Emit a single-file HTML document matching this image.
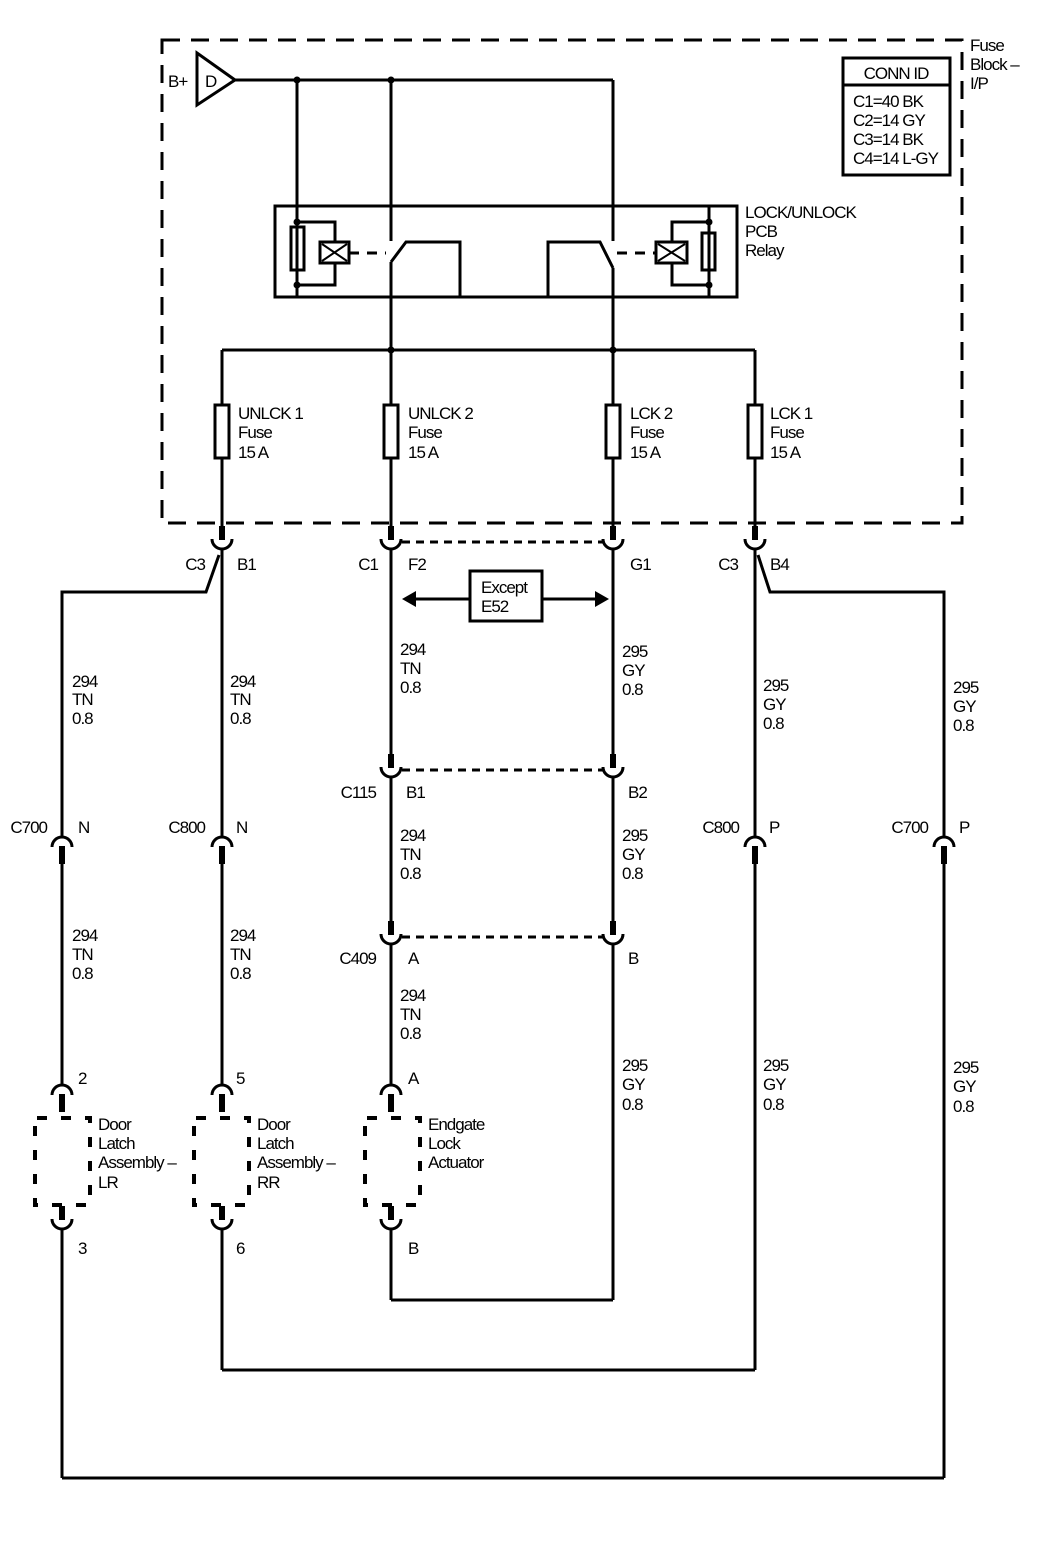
<!DOCTYPE html>
<html><head><meta charset="utf-8"><style>
html,body{margin:0;padding:0;background:#fff}
svg{display:block}
text{font-family:"Liberation Sans",sans-serif;font-size:17px;fill:#000;letter-spacing:-1px}
</style></head><body>
<svg width="1040" height="1568" viewBox="0 0 1040 1568" xmlns="http://www.w3.org/2000/svg">
<defs>
<g id="uc"><rect x="-3" y="-14" width="6" height="14"/><path d="M-10,-1 A10,10 0 0 0 10,-1" fill="none" stroke="#000" stroke-width="3"/></g>
<g id="nc"><rect x="-3" y="0" width="6" height="18"/><path d="M-10,1 A10,10 0 0 1 10,1" fill="none" stroke="#000" stroke-width="3"/></g>
</defs>
<g fill="none" stroke="#000" stroke-width="3">
<rect x="162" y="40" width="800" height="483" stroke-dasharray="18,11"/>
<path d="M197,53 L235,80 L197,105 Z"/>
<line x1="235" y1="80" x2="613" y2="80"/>
<line x1="297" y1="80" x2="297" y2="297"/>
<line x1="391" y1="80" x2="391" y2="241"/>
<line x1="613" y1="80" x2="613" y2="241"/>
<rect x="275" y="206" width="462" height="91"/>
<polyline points="297,222 335,222 335,242"/>
<polyline points="335,263 335,285 297,285"/>
<rect x="291" y="227" width="13" height="43"/>
<rect x="320" y="242" width="29" height="21"/>
<line x1="322" y1="244" x2="347" y2="261" stroke-width="2"/>
<line x1="347" y1="244" x2="322" y2="261" stroke-width="2"/>
<line x1="349" y1="253" x2="386" y2="253" stroke-dasharray="10,8"/>
<polyline points="391,262 406,242 460,242 460,297"/>
<line x1="709" y1="206" x2="709" y2="297"/>
<polyline points="709,222 672,222 672,242"/>
<polyline points="672,263 672,285 709,285"/>
<rect x="702" y="233" width="13" height="37"/>
<rect x="656" y="242" width="31" height="21"/>
<line x1="658" y1="244" x2="685" y2="261" stroke-width="2"/>
<line x1="685" y1="244" x2="658" y2="261" stroke-width="2"/>
<line x1="617" y1="253" x2="656" y2="253" stroke-dasharray="10,8"/>
<polyline points="613,268 600,242 548,242 548,297"/>
<line x1="391" y1="262" x2="391" y2="526"/>
<line x1="613" y1="268" x2="613" y2="526"/>
<line x1="222" y1="350" x2="755" y2="350"/>
<line x1="222" y1="350" x2="222" y2="526"/>
<line x1="755" y1="350" x2="755" y2="526"/>
<rect x="215" y="405" width="14" height="53" fill="#fff"/>
<rect x="384" y="405" width="14" height="53" fill="#fff"/>
<rect x="606" y="405" width="14" height="53" fill="#fff"/>
<rect x="748" y="405" width="14" height="53" fill="#fff"/>
<rect x="843" y="58" width="107" height="117"/>
<line x1="843" y1="85" x2="950" y2="85"/>
<line x1="402" y1="542" x2="604" y2="542" stroke-dasharray="8,6"/>
<line x1="402" y1="770" x2="604" y2="770" stroke-dasharray="8,6"/>
<line x1="402" y1="937" x2="604" y2="937" stroke-dasharray="8,6"/>
<rect x="470" y="571" width="72" height="50"/>
<line x1="414" y1="599" x2="470" y2="599"/>
<line x1="542" y1="599" x2="597" y2="599"/>
<line x1="222" y1="548" x2="222" y2="838"/>
<line x1="391" y1="548" x2="391" y2="757"/>
<line x1="613" y1="548" x2="613" y2="757"/>
<line x1="755" y1="548" x2="755" y2="838"/>
<polyline points="219,555 206,592 62,592 62,838"/>
<polyline points="758,555 770,592 944,592 944,838"/>
<line x1="391" y1="776" x2="391" y2="924"/>
<line x1="613" y1="776" x2="613" y2="924"/>
<line x1="391" y1="943" x2="391" y2="1085"/>
<line x1="613" y1="943" x2="613" y2="1300"/>
<line x1="62" y1="862" x2="62" y2="1085"/>
<line x1="222" y1="862" x2="222" y2="1085"/>
<line x1="755" y1="862" x2="755" y2="1370"/>
<line x1="944" y1="862" x2="944" y2="1478"/>
<line x1="62" y1="1228" x2="62" y2="1478"/>
<line x1="222" y1="1228" x2="222" y2="1370"/>
<line x1="391" y1="1228" x2="391" y2="1300"/>
<line x1="391" y1="1300" x2="613" y2="1300"/>
<line x1="222" y1="1370" x2="755" y2="1370"/>
<line x1="62" y1="1478" x2="944" y2="1478"/>
<rect x="35" y="1118" width="55" height="87" stroke-width="4" stroke-dasharray="10,14" stroke-dashoffset="-2"/>
<rect x="194" y="1118" width="55" height="87" stroke-width="4" stroke-dasharray="10,14" stroke-dashoffset="-2"/>
<rect x="365" y="1118" width="55" height="87" stroke-width="4" stroke-dasharray="10,14" stroke-dashoffset="-2"/>
</g>
<g fill="#000">
<circle cx="297" cy="80" r="3.5"/><circle cx="391" cy="80" r="3.5"/>
<circle cx="297" cy="222" r="3.5"/><circle cx="297" cy="285" r="3.5"/>
<circle cx="709" cy="222" r="3.5"/><circle cx="709" cy="285" r="3.5"/>
<circle cx="391" cy="350" r="3.5"/><circle cx="613" cy="350" r="3.5"/>
<path d="M402,599 L416,591 L416,607 Z"/><path d="M609,599 L595,591 L595,607 Z"/>
</g>
<use href="#uc" x="222" y="540"/><use href="#uc" x="391" y="540"/><use href="#uc" x="613" y="540"/><use href="#uc" x="755" y="540"/>
<use href="#uc" x="391" y="768"/><use href="#uc" x="613" y="768"/>
<use href="#uc" x="391" y="935"/><use href="#uc" x="613" y="935"/>
<use href="#nc" x="62" y="846"/><use href="#nc" x="222" y="846"/><use href="#nc" x="755" y="846"/><use href="#nc" x="944" y="846"/>
<use href="#nc" x="62" y="1094"/><use href="#nc" x="222" y="1094"/><use href="#nc" x="391" y="1094"/>
<use href="#uc" x="62" y="1220"/><use href="#uc" x="222" y="1220"/><use href="#uc" x="391" y="1220"/>
<text x="168" y="87">B+</text><text x="205" y="87">D</text>
<text x="970" y="51">Fuse</text><text x="970" y="70">Block –</text><text x="970" y="89">I/P</text>
<text x="896" y="79" text-anchor="middle">CONN ID</text>
<text x="853" y="107">C1=40 BK</text><text x="853" y="126">C2=14 GY</text><text x="853" y="145">C3=14 BK</text><text x="853" y="164">C4=14 L-GY</text>
<text x="745" y="218">LOCK/UNLOCK</text><text x="745" y="237">PCB</text><text x="745" y="256">Relay</text>
<text x="238" y="419">UNLCK 1</text><text x="238" y="438">Fuse</text><text x="238" y="458">15 A</text>
<text x="408" y="419">UNLCK 2</text><text x="408" y="438">Fuse</text><text x="408" y="458">15 A</text>
<text x="630" y="419">LCK 2</text><text x="630" y="438">Fuse</text><text x="630" y="458">15 A</text>
<text x="770" y="419">LCK 1</text><text x="770" y="438">Fuse</text><text x="770" y="458">15 A</text>
<text x="205" y="570" text-anchor="end">C3</text><text x="237" y="570">B1</text>
<text x="378" y="570" text-anchor="end">C1</text><text x="408" y="570">F2</text>
<text x="630" y="570">G1</text>
<text x="738" y="570" text-anchor="end">C3</text><text x="770" y="570">B4</text>
<text x="481" y="593">Except</text><text x="481" y="612">E52</text>
<g>
<text x="72" y="687">294</text><text x="72" y="705">TN</text><text x="72" y="724">0.8</text>
<text x="230" y="687">294</text><text x="230" y="705">TN</text><text x="230" y="724">0.8</text>
<text x="400" y="655">294</text><text x="400" y="674">TN</text><text x="400" y="693">0.8</text>
<text x="622" y="657">295</text><text x="622" y="676">GY</text><text x="622" y="695">0.8</text>
<text x="763" y="691">295</text><text x="763" y="710">GY</text><text x="763" y="729">0.8</text>
<text x="953" y="693">295</text><text x="953" y="712">GY</text><text x="953" y="731">0.8</text>
<text x="376" y="798" text-anchor="end">C115</text><text x="406" y="798">B1</text><text x="628" y="798">B2</text>
<text x="400" y="841">294</text><text x="400" y="860">TN</text><text x="400" y="879">0.8</text>
<text x="622" y="841">295</text><text x="622" y="860">GY</text><text x="622" y="879">0.8</text>
<text x="47" y="833" text-anchor="end">C700</text><text x="78" y="833">N</text>
<text x="205" y="833" text-anchor="end">C800</text><text x="236" y="833">N</text>
<text x="739" y="833" text-anchor="end">C800</text><text x="769" y="833">P</text>
<text x="928" y="833" text-anchor="end">C700</text><text x="959" y="833">P</text>
<text x="72" y="941">294</text><text x="72" y="960">TN</text><text x="72" y="979">0.8</text>
<text x="230" y="941">294</text><text x="230" y="960">TN</text><text x="230" y="979">0.8</text>
<text x="376" y="964" text-anchor="end">C409</text><text x="408" y="964">A</text><text x="628" y="964">B</text>
<text x="400" y="1001">294</text><text x="400" y="1020">TN</text><text x="400" y="1039">0.8</text>
<text x="622" y="1071">295</text><text x="622" y="1090">GY</text><text x="622" y="1110">0.8</text>
<text x="763" y="1071">295</text><text x="763" y="1090">GY</text><text x="763" y="1110">0.8</text>
<text x="953" y="1073">295</text><text x="953" y="1092">GY</text><text x="953" y="1112">0.8</text>
<text x="78" y="1084">2</text><text x="236" y="1084">5</text><text x="408" y="1084">A</text>
<text x="78" y="1254">3</text><text x="236" y="1254">6</text><text x="408" y="1254">B</text>
<text x="98" y="1130">Door</text><text x="98" y="1149">Latch</text><text x="98" y="1168">Assembly –</text><text x="98" y="1188">LR</text>
<text x="257" y="1130">Door</text><text x="257" y="1149">Latch</text><text x="257" y="1168">Assembly –</text><text x="257" y="1188">RR</text>
<text x="428" y="1130">Endgate</text><text x="428" y="1149">Lock</text><text x="428" y="1168">Actuator</text>
</g>
</svg>
</body></html>
